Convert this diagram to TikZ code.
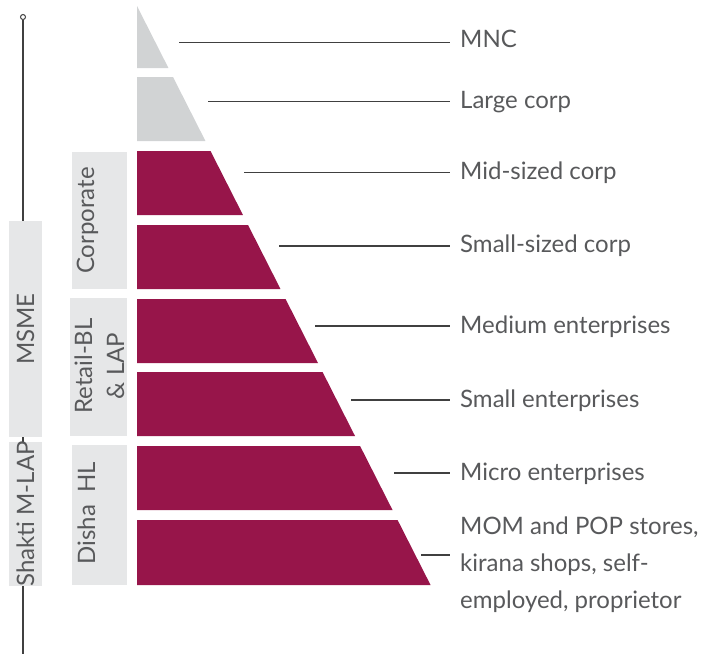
\documentclass[tikz,border=0pt]{standalone}
\usepackage{fontspec}
\setmainfont{Lato}
\definecolor{wine}{HTML}{97154A}
\definecolor{ash}{HTML}{D1D3D4}
\definecolor{boxgray}{HTML}{E6E7E8}
\definecolor{inkgray}{HTML}{58595B}
\definecolor{rulegray}{HTML}{404040}

\begin{document}
\begin{tikzpicture}[x=1pt,y=-1pt,
    every node/.style={inner sep=0pt,text=inkgray},
    segbox/.style={fill=boxgray,rotate=90},
    seglabel/.style={rotate=90,font=\fontsize{24}{32}\selectfont},
    tier/.style={inner xsep=10pt,font=\fontsize{24}{37}\selectfont,align=left},
    leader/.style={rulegray,line width=1.2pt}]

    \useasboundingbox (0,0) rectangle (706,654);

    % Spine on the left
    \node[circle,draw=rulegray,fill=white,line width=1pt,minimum size=5pt] (knob) at (23,17) {};
    \coordinate (foot) at (23,654);
    \draw[rulegray,line width=1.2pt] (knob) -- (foot);

    % Pyramid bands
    \foreach \t/\b/\c in {6/68/ash, 77/141/ash, 151/215/wine, 225/289/wine,
                          299/363/wine, 372/436/wine, 446/510/wine, 520/585/wine}
      \fill[\c] (137,\t) -- ({137+0.507*(\t-6)},\t) -- ({137+0.507*(\b-6)},\b) -- (137,\b) -- cycle;

    % Segment boxes
    \node[segbox,minimum width=216,minimum height=33] (msmebox)   at (25.5,329) {};
    \node[segbox,minimum width=144,minimum height=33] (shaktibox) at (25.5,514) {};
    \node[segbox,minimum width=137,minimum height=55] (corpbox)   at (99.5,220.5) {};
    \node[segbox,minimum width=138,minimum height=57] (retailbox) at (98.5,367) {};
    \node[segbox,minimum width=140,minimum height=55] (dishabox)  at (99.5,515) {};

    \node[seglabel] (msme)   at (msmebox)   {MSME};
    \node[seglabel] (shakti) at (shaktibox) {Shakti M-LAP};
    \node[seglabel,anchor=base] (corp)  at (94,220.5) {Corporate};
    \node[seglabel,align=center] (retail) at (99.5,366) {Retail-BL\\\& LAP};
    \node[seglabel,anchor=base] (disha) at (95,513) {Disha\ \ HL};

    % Tier labels
    \node[tier,anchor=base west] (mnc)    at (450,47.5) {MNC};
    \node[tier,anchor=base west] (large)  at (450,108)  {Large corp};
    \node[tier,anchor=base west] (mid)    at (450,179)  {Mid-sized corp};
    \node[tier,anchor=base west] (smallc) at (450,252)  {Small-sized corp};
    \node[tier,anchor=base west] (medium) at (450,333)  {Medium enterprises};
    \node[tier,anchor=base west] (smalle) at (450,407)  {Small enterprises};
    \node[tier,anchor=base west] (micro)  at (450,480)  {Micro enterprises};
    \node[tier,anchor=north west] (mom)   at (450,517)
      {MOM and POP stores,\\kirana shops, self-\\employed, proprietor};

    % Leader lines
    \coordinate (p1) at (179,42.5);
    \coordinate (p2) at (208,101.5);
    \coordinate (p3) at (244,172.5);
    \coordinate (p4) at (279,246);
    \coordinate (p5) at (315,326);
    \coordinate (p6) at (351,400);
    \coordinate (p7) at (394,473);
    \coordinate (p8) at (421,555);
    \draw[leader] (p1) -- (p1 -| mnc.west);
    \draw[leader] (p2) -- (p2 -| large.west);
    \draw[leader] (p3) -- (p3 -| mid.west);
    \draw[leader] (p4) -- (p4 -| smallc.west);
    \draw[leader] (p5) -- (p5 -| medium.west);
    \draw[leader] (p6) -- (p6 -| smalle.west);
    \draw[leader] (p7) -- (p7 -| micro.west);
    \draw[leader] (p8) -- (p8 -| mom.west);

\end{tikzpicture}
\end{document}
